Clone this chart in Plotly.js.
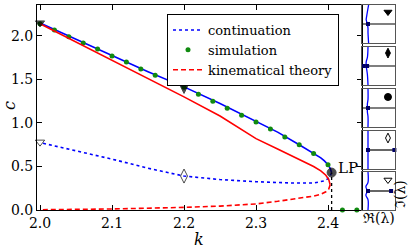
<!DOCTYPE html>
<html><head><meta charset="utf-8">
<script src="https://cdn.plot.ly/plotly-3.0.1.min.js"></script>
<style>html,body{margin:0;padding:0;background:#fff}#plot{width:415px;height:251px}</style>
</head><body><div id="plot"></div>
<script>
// ---- main chart data ----
const stableK = [2.0, 2.05, 2.1, 2.15, 2.2, 2.25, 2.3, 2.33, 2.36, 2.38, 2.39, 2.395, 2.40, 2.403, 2.405];
const stableC = [2.15, 1.96, 1.775, 1.59, 1.415, 1.225, 1.015, 0.895, 0.75, 0.655, 0.60, 0.565, 0.52, 0.48, 0.43];
const unstableK = [2.405, 2.403, 2.40, 2.395, 2.38, 2.35, 2.3, 2.25, 2.2, 2.15, 2.1, 2.05, 2.0];
const unstableC = [0.43, 0.39, 0.36, 0.335, 0.31, 0.31, 0.325, 0.35, 0.39, 0.48, 0.585, 0.68, 0.775];
const simK = [2.00, 2.02, 2.04, 2.06, 2.08, 2.10, 2.12, 2.14, 2.16, 2.18, 2.20, 2.22, 2.24, 2.26, 2.28, 2.30, 2.32, 2.34, 2.36, 2.38, 2.40, 2.42, 2.44];
const simC = [2.14, 2.07, 1.99, 1.92, 1.85, 1.77, 1.70, 1.62, 1.55, 1.48, 1.41, 1.33, 1.25, 1.17, 1.09, 1.01, 0.93, 0.84, 0.75, 0.65, 0.52, 0.0, 0.0];
const kinSolidK = [2.0, 2.1, 2.2, 2.25, 2.3, 2.33, 2.36, 2.38, 2.39, 2.397, 2.401, 2.403];
const kinSolidC = [2.14, 1.72, 1.30, 1.08, 0.82, 0.70, 0.58, 0.50, 0.45, 0.40, 0.35, 0.29];
const kinDashK = [2.403, 2.401, 2.397, 2.39, 2.38, 2.36, 2.33, 2.3, 2.25, 2.2, 2.1, 2.0];
const kinDashC = [0.29, 0.24, 0.21, 0.18, 0.16, 0.135, 0.10, 0.07, 0.045, 0.03, 0.012, 0.003];
const lpK = [2.405, 2.405];
const lpC = [0.0, 0.43];
const markK = [2.0, 2.2, 2.405, 2.2, 2.0];
const markC = [2.15, 1.42, 0.43, 0.39, 0.78];
const markSym = ['triangle-down', 'diamond-tall', 'circle', 'diamond-tall-open', 'triangle-down-open'];
const xTicks = [2.0, 2.1, 2.2, 2.3, 2.4];
const xTickText = ['2.0', '2.1', '2.2', '2.3', '2.4'];
const yTicks = [0.0, 0.5, 1.0, 1.5, 2.0];
const yTickText = ['0.0', '0.5', '1.0', '1.5', '2.0'];

// ---- spectrum panels data ----
const blueIm = [1, 0.45, 0.22, 0, -0.22, -0.45, -1];
const blueRe = [
  [0.1, -0.2, -0.3, -0.1, 0.0, 0.0, 0.1],
  [0.0, -0.1, -0.3, -0.3, -0.2, -0.1, 0.0],
  [0.0, 0.0, -0.1, -0.1, -0.1, 0.0, 0.0],
  [0.0, 0.0, 0.0, 0.0, 0.0, 0.0, 0.0],
  [0.0, 0.0, -0.35, -0.1, -0.35, 0.0, 0.0]
];
const blackRe = [[-1, 4.5], [-1, 4.5], [-1, 4.5], [-0.3, 4.5], [0, 3.85]];
const eigRe = [[0.0], [-0.8, -0.15], [0.0], [0.0, 4.4], [0.0, 3.85]];
const panelSym = ['triangle-down', 'diamond-tall', 'circle', 'diamond-tall-open', 'triangle-down-open'];
const panelSymRe = [3.33, 3.33, 3.33, 3.33, 3.33];
const panelSymIm = [0.63, 0.68, 0.58, 0.63, 0.58];

const W = 415, H = 251;
const FONT = 'DejaVu Serif';
const traces = [];

traces.push({x: stableK, y: stableC, mode: 'lines', line: {color: '#0000ff', width: 1.6}, showlegend: false, hoverinfo: 'skip'});
traces.push({x: unstableK, y: unstableC, mode: 'lines', name: 'continuation', line: {color: '#0000ff', width: 1.6, dash: 'dot'}});
traces.push({x: simK, y: simC, mode: 'markers', name: 'simulation', cliponaxis: false, marker: {color: '#108a10', size: 5}});
traces.push({x: kinSolidK, y: kinSolidC, mode: 'lines', line: {color: '#ff0000', width: 1.6}, showlegend: false});
traces.push({x: kinDashK, y: kinDashC, mode: 'lines', name: 'kinematical theory', line: {color: '#ff0000', width: 1.6, dash: '5px,3px'}});
traces.push({x: lpK, y: lpC, mode: 'lines', line: {color: '#000', width: 1.3, dash: 'dot'}, showlegend: false});
traces.push({x: markK, y: markC, mode: 'markers', showlegend: false, cliponaxis: false,
  marker: {symbol: markSym, color: '#000', size: [8, 10, 9, 10, 8], line: {color: '#000', width: 1}}});

const layout = {
  width: W, height: H, margin: {l: 0, r: 0, t: 0, b: 0},
  paper_bgcolor: '#fff', plot_bgcolor: 'rgba(0,0,0,0)',
  font: {family: FONT, size: 14, color: '#000'},
  showlegend: true,
  legend: {x: 167 / W, y: 1 - 14 / H, xanchor: 'left', yanchor: 'top', bgcolor: '#fff',
    bordercolor: '#000', borderwidth: 1, font: {family: FONT, size: 13}, traceorder: 'normal', tracegroupgap: 0},
  xaxis: {domain: [37 / W, 362 / W], range: [1.9958, 2.4472], tickvals: xTicks, ticktext: xTickText,
    ticks: 'inside', ticklen: 5, tickcolor: '#000', showline: true, linecolor: '#000', linewidth: 1, mirror: 'allticks',
    showgrid: false, zeroline: false, tickfont: {family: FONT, size: 14}, anchor: 'y'},
  yaxis: {domain: [1 - 210 / H, 1 - 5 / H], range: [0, 2.356], tickvals: yTicks, ticktext: yTickText,
    ticks: 'inside', ticklen: 5, tickcolor: '#000', showline: true, linecolor: '#000', linewidth: 1, mirror: 'allticks',
    showgrid: false, zeroline: false, tickfont: {family: FONT, size: 14}, anchor: 'x'},
  annotations: [
    {xref: 'paper', yref: 'paper', x: 9 / W, y: 1 - 106 / H, xanchor: 'center', yanchor: 'middle', text: '<i>c</i>', showarrow: false, textangle: -90, font: {family: FONT, size: 16}},
    {xref: 'paper', yref: 'paper', x: 199 / W, y: 1 - 239 / H, xanchor: 'center', yanchor: 'middle', text: '<i>k</i>', showarrow: false, font: {family: FONT, size: 16}},
    {xref: 'x', yref: 'y', x: 2.405, y: 0.43, xanchor: 'left', yanchor: 'middle', xshift: 4, yshift: 5, text: 'LP', showarrow: false, font: {family: FONT, size: 15}},
    {xref: 'paper', yref: 'paper', x: 379 / W, y: 1 - 218 / H, xanchor: 'center', yanchor: 'middle', text: 'ℜ(λ)', showarrow: false, font: {family: FONT, size: 14}},
    {xref: 'paper', yref: 'paper', x: 400 / W, y: 1 - 194 / H, xanchor: 'center', yanchor: 'middle', text: 'ℑ(λ)', showarrow: false, textangle: -90, font: {family: FONT, size: 14}}
  ]
};

const panelY = [[5, 43], [47, 85], [89, 127], [131, 169], [172, 210]];
for (let i = 0; i < 5; i++) {
  const n = i + 2;
  const xa = 'x' + n, ya = 'y' + n;
  layout['xaxis' + n] = {domain: [362 / W, 395 / W], range: [-1, 4.5], anchor: ya, showline: true, mirror: true,
    linecolor: '#555', linewidth: 1, showgrid: false, zeroline: false, showticklabels: false, ticks: ''};
  layout['yaxis' + n] = {domain: [1 - panelY[i][1] / H, 1 - panelY[i][0] / H], range: [-1, 1], anchor: xa, showline: true, mirror: true,
    linecolor: '#555', linewidth: 1, showgrid: false, zeroline: false, showticklabels: false, ticks: ''};
  traces.push({x: blackRe[i], y: [0, 0], xaxis: xa, yaxis: ya, mode: 'lines', line: {color: '#000', width: 1.2}, showlegend: false});
  traces.push({x: blueRe[i], y: blueIm, xaxis: xa, yaxis: ya, mode: 'lines', line: {color: '#0000ff', width: 1.3, shape: 'spline'}, showlegend: false});
  traces.push({x: eigRe[i], y: eigRe[i].map(() => 0), xaxis: xa, yaxis: ya, mode: 'markers', marker: {symbol: 'square', size: 4, color: '#000066'}, showlegend: false, cliponaxis: false});
  traces.push({x: [panelSymRe[i]], y: [panelSymIm[i]], xaxis: xa, yaxis: ya, mode: 'markers',
    marker: {symbol: panelSym[i], size: 7, color: '#000', line: {color: '#000', width: 1}}, showlegend: false});
}

Plotly.newPlot('plot', traces, layout, {staticPlot: true, displayModeBar: false});
</script></body></html>
